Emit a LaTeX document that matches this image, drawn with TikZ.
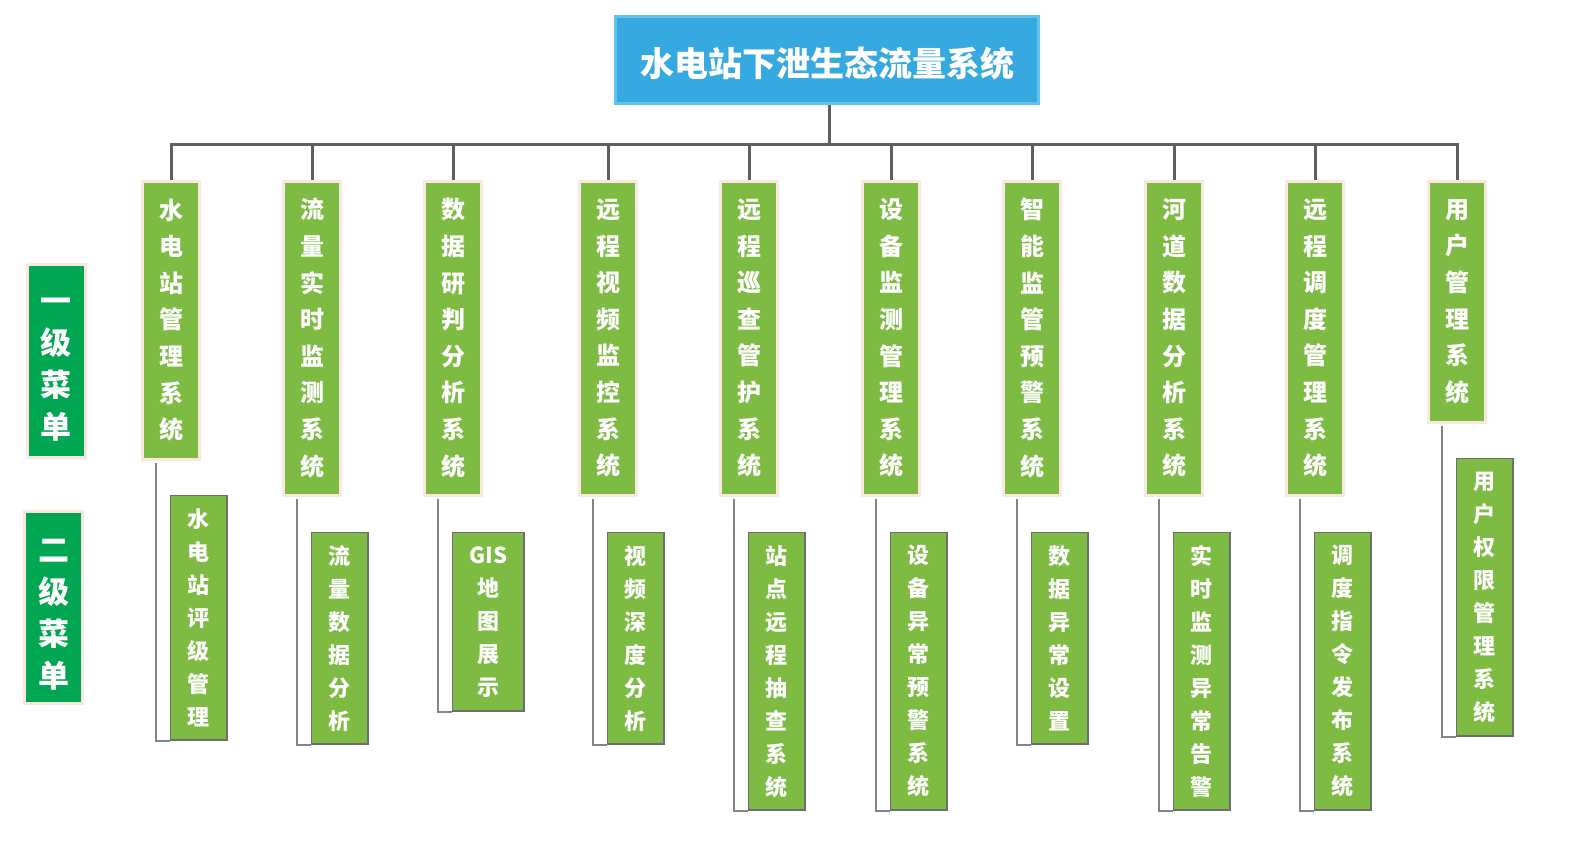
\documentclass[tikz,border=0pt]{standalone}
\usepackage{fontspec}
\setmainfont{Noto Sans CJK SC}
\definecolor{lvlgreen}{HTML}{7EBB42}
\definecolor{peach}{HTML}{FAE7DD}
\definecolor{darkgreen}{HTML}{00A651}
\definecolor{titleblue}{HTML}{36A9E0}
\definecolor{titleedge}{HTML}{62C3EC}
\definecolor{treegray}{HTML}{5F5F5F}
\definecolor{subgray}{HTML}{858585}
\definecolor{subedge}{HTML}{6E6E6E}
\tikzset{
  titlebox/.style={fill=titleblue, draw=titleedge, line width=3pt, minimum width=423pt, minimum height=87pt, inner sep=0pt},
  titletext/.style={inner sep=0pt, text=white, font=\bfseries\fontsize{34}{40}\selectfont},
  menubox/.style={fill=darkgreen, draw=peach, line width=3pt, minimum width=58pt, inner sep=0pt},
  menutext/.style={inner sep=0pt, text=white, align=center, font=\bfseries\fontsize{31}{42}\selectfont},
  onebox/.style={fill=lvlgreen, draw=peach, line width=3pt, minimum width=57pt, inner sep=0pt, text=white, align=center, anchor=north, font=\bfseries\fontsize{24}{36.6}\selectfont},
  twobox/.style={fill=lvlgreen, draw=subedge, line width=1.5pt, minimum width=56.5pt, inner sep=0pt, text=white, align=center, anchor=north west, font=\bfseries\fontsize{22}{33}\selectfont},
  treeline/.style={draw=treegray, line width=3pt},
  subline/.style={draw=subgray, line width=2pt}
}
\begin{document}
\begin{tikzpicture}[x=1pt,y=-1pt]
\useasboundingbox (0,0) rectangle (1569,864);
\fill[white] (0,0) rectangle (1569,864);

\node[titlebox] (title) at (827,60) {};
\node[titletext] (titlet) at ([yshift=-4pt]title.center) {水电站下泄生态流量系统};

\node[menubox, minimum height=193pt] (m1) at (56,361) {};
\node[menutext] (m1t) at ([yshift=-9pt]m1.center) {一\\级\\菜\\单};
\node[menubox, minimum height=192pt] (m2) at (53.5,607.5) {};
\node[menutext] (m2t) at ([yshift=-7pt]m2.center) {二\\级\\菜\\单};

% first level
\node[onebox, minimum height=278pt] (p1) at (171,179.5) {水\\电\\站\\管\\理\\系\\统};
\node[onebox, minimum height=314pt] (p2) at (312,179.5) {流\\量\\实\\时\\监\\测\\系\\统};
\node[onebox, minimum height=314pt] (p3) at (453,179.5) {数\\据\\研\\判\\分\\析\\系\\统};
\node[onebox, minimum height=314pt] (p4) at (608,179.5) {远\\程\\视\\频\\监\\控\\系\\统};
\node[onebox, minimum height=314pt] (p5) at (749,179.5) {远\\程\\巡\\查\\管\\护\\系\\统};
\node[onebox, minimum height=314pt] (p6) at (891,179.5) {设\\备\\监\\测\\管\\理\\系\\统};
\node[onebox, minimum height=314pt] (p7) at (1032,179.5) {智\\能\\监\\管\\预\\警\\系\\统};
\node[onebox, minimum height=314pt] (p8) at (1174,179.5) {河\\道\\数\\据\\分\\析\\系\\统};
\node[onebox, minimum height=314pt] (p9) at (1315,179.5) {远\\程\\调\\度\\管\\理\\系\\统};
\node[onebox, minimum height=241pt] (p10) at (1457,179.5) {用\\户\\管\\理\\系\\统};

% tree
\coordinate (bar) at (829,145);
\draw[treeline] (title.south -| bar) -- (bar);
\draw[treeline] (p1.north) -- (p1.north |- bar) -- (p10.north |- bar) -- (p10.north);
\foreach \i in {2,...,9} { \draw[treeline] (p\i.north) -- (p\i.north |- bar); }

% second level
\node[twobox, minimum height=244.5pt] (c1) at (169.75,494.75) {水\\电\\站\\评\\级\\管\\理};
\node[twobox, minimum height=211.5pt] (c2) at (310.75,531.75) {流\\量\\数\\据\\分\\析};
\node[twobox, minimum width=71.5pt, minimum height=178.5pt] (c3) at (451.75,531.75) {GIS\\地\\图\\展\\示};
\node[twobox, minimum height=211.5pt] (c4) at (606.75,531.75) {视\\频\\深\\度\\分\\析};
\node[twobox, minimum height=277.5pt] (c5) at (747.75,531.75) {站\\点\\远\\程\\抽\\查\\系\\统};
\node[twobox, minimum height=277.5pt] (c6) at (889.75,531.75) {设\\备\\异\\常\\预\\警\\系\\统};
\node[twobox, minimum height=211.5pt] (c7) at (1030.75,531.75) {数\\据\\异\\常\\设\\置};
\node[twobox, minimum height=277.5pt] (c8) at (1172.75,531.75) {实\\时\\监\\测\\异\\常\\告\\警};
\node[twobox, minimum height=277.5pt] (c9) at (1313.75,531.75) {调\\度\\指\\令\\发\\布\\系\\统};
\node[twobox, minimum height=277.5pt] (c10) at (1455.75,457.75) {用\\户\\权\\限\\管\\理\\系\\统};

\foreach \i in {1,...,10} {
  \draw[subline] ([xshift=-15pt,yshift=-2pt]p\i.south) |- (c\i.south west);
}
\end{tikzpicture}
\end{document}
